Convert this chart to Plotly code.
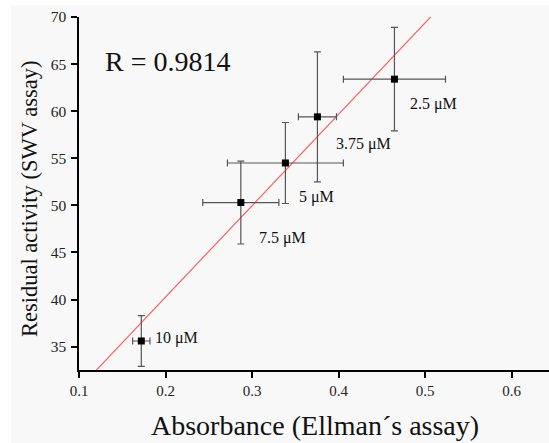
import numpy as np
import plotly.graph_objects as go

# Data
labels = ["10 μM", "7.5 μM", "5 μM", "3.75 μM", "2.5 μM"]
absorbance = [0.172, 0.287, 0.3385, 0.3755, 0.4645]
absorbance_err = [0.010, 0.044, 0.067, 0.022, 0.059]
residual = [35.6, 50.3, 54.5, 59.4, 63.4]
residual_err = [2.7, 4.4, 4.3, 6.9, 5.5]
label_x = [0.2132, 0.3346, 0.3739, 0.4293, 0.5102]
label_y = [35.92, 46.55, 50.9, 56.55, 60.79]
x_ticks = [0.1, 0.2, 0.3, 0.4, 0.5, 0.6]
y_ticks = [35, 40, 45, 50, 55, 60, 65, 70]
r_text = "R = 0.9814"

W, H = 549, 443
L, R_, T, B = 79, 0, 17, 73
pw, ph = W - L - R_, H - T - B

def px_x(p):
    return (p - L) / pw

def px_y(p):
    return (H - B - p) / ph

FONT = "Liberation Serif"

slope, intercept = np.polyfit(absorbance, residual, 1)
fit_x = [0.1, 0.6431]
fit_y = [slope * v + intercept for v in fit_x]

fig = go.Figure()
fig.add_trace(go.Scatter(
    x=fit_x, y=fit_y, mode="lines",
    line=dict(color="rgb(255,95,95)", width=1.2),
    hoverinfo="skip", showlegend=False))
fig.add_trace(go.Scatter(
    x=absorbance, y=residual, mode="markers",
    marker=dict(symbol="square", size=7, color="black"),
    error_x=dict(type="data", array=absorbance_err, color="#555555", thickness=1.2, width=3.5),
    error_y=dict(type="data", array=residual_err, color="#555555", thickness=1.2, width=3.5),
    showlegend=False))

annotations = []
for t, lx, ly in zip(labels, label_x, label_y):
    annotations.append(dict(x=lx, y=ly, xref="x", yref="y", text=t, showarrow=False,
                            xanchor="center", yanchor="middle",
                            font=dict(family=FONT, size=16, color="#111")))
annotations.append(dict(x=0.2023, y=65.25, xref="x", yref="y", text=r_text, showarrow=False,
                        xanchor="center", yanchor="middle",
                        font=dict(family=FONT, size=28, color="#111")))
annotations.append(dict(x=px_x(314.5), y=px_y(426), xref="paper", yref="paper",
                        text="Absorbance (Ellman´s assay)", showarrow=False,
                        xanchor="center", yanchor="middle",
                        font=dict(family=FONT, size=28, color="#111")))
annotations.append(dict(x=px_x(29), y=px_y(199), xref="paper", yref="paper",
                        text="Residual activity (SWV assay)", showarrow=False, textangle=-90,
                        xanchor="center", yanchor="middle",
                        font=dict(family=FONT, size=22.5, color="#111")))

fig.update_layout(
    width=W, height=H,
    margin=dict(l=L, r=R_, t=T, b=B, pad=0),
    paper_bgcolor="white",
    plot_bgcolor="rgba(0,0,0,0)",
    font=dict(family=FONT, size=15, color="#222"),
    annotations=annotations,
    shapes=[dict(type="rect", xref="paper", yref="paper",
                 x0=px_x(11), x1=px_x(W + 5), y0=px_y(H + 5), y1=px_y(5),
                 fillcolor="#f8f8f8", line=dict(width=0), layer="below")],
    xaxis=dict(range=[0.1, 0.6431], tickvals=x_ticks, tickformat=".1f",
               showgrid=False, zeroline=False, showline=True, linecolor="black", linewidth=1.5,
               ticks="outside", ticklen=6, tickwidth=1.5, tickcolor="black",
               ticklabelstandoff=0, tickfont=dict(family=FONT, size=15, color="#222")),
    yaxis=dict(range=[32.52, 70], tickvals=y_ticks,
               showgrid=False, zeroline=False, showline=True, linecolor="black", linewidth=1.5,
               ticks="outside", ticklen=6, tickwidth=1.5, tickcolor="black",
               ticklabelstandoff=2, tickfont=dict(family=FONT, size=15.5, color="#222")),
)

fig.write_html("out.html", config={"displayModeBar": False},
               post_script="document.body.style.margin='0';document.body.style.padding='0';")
